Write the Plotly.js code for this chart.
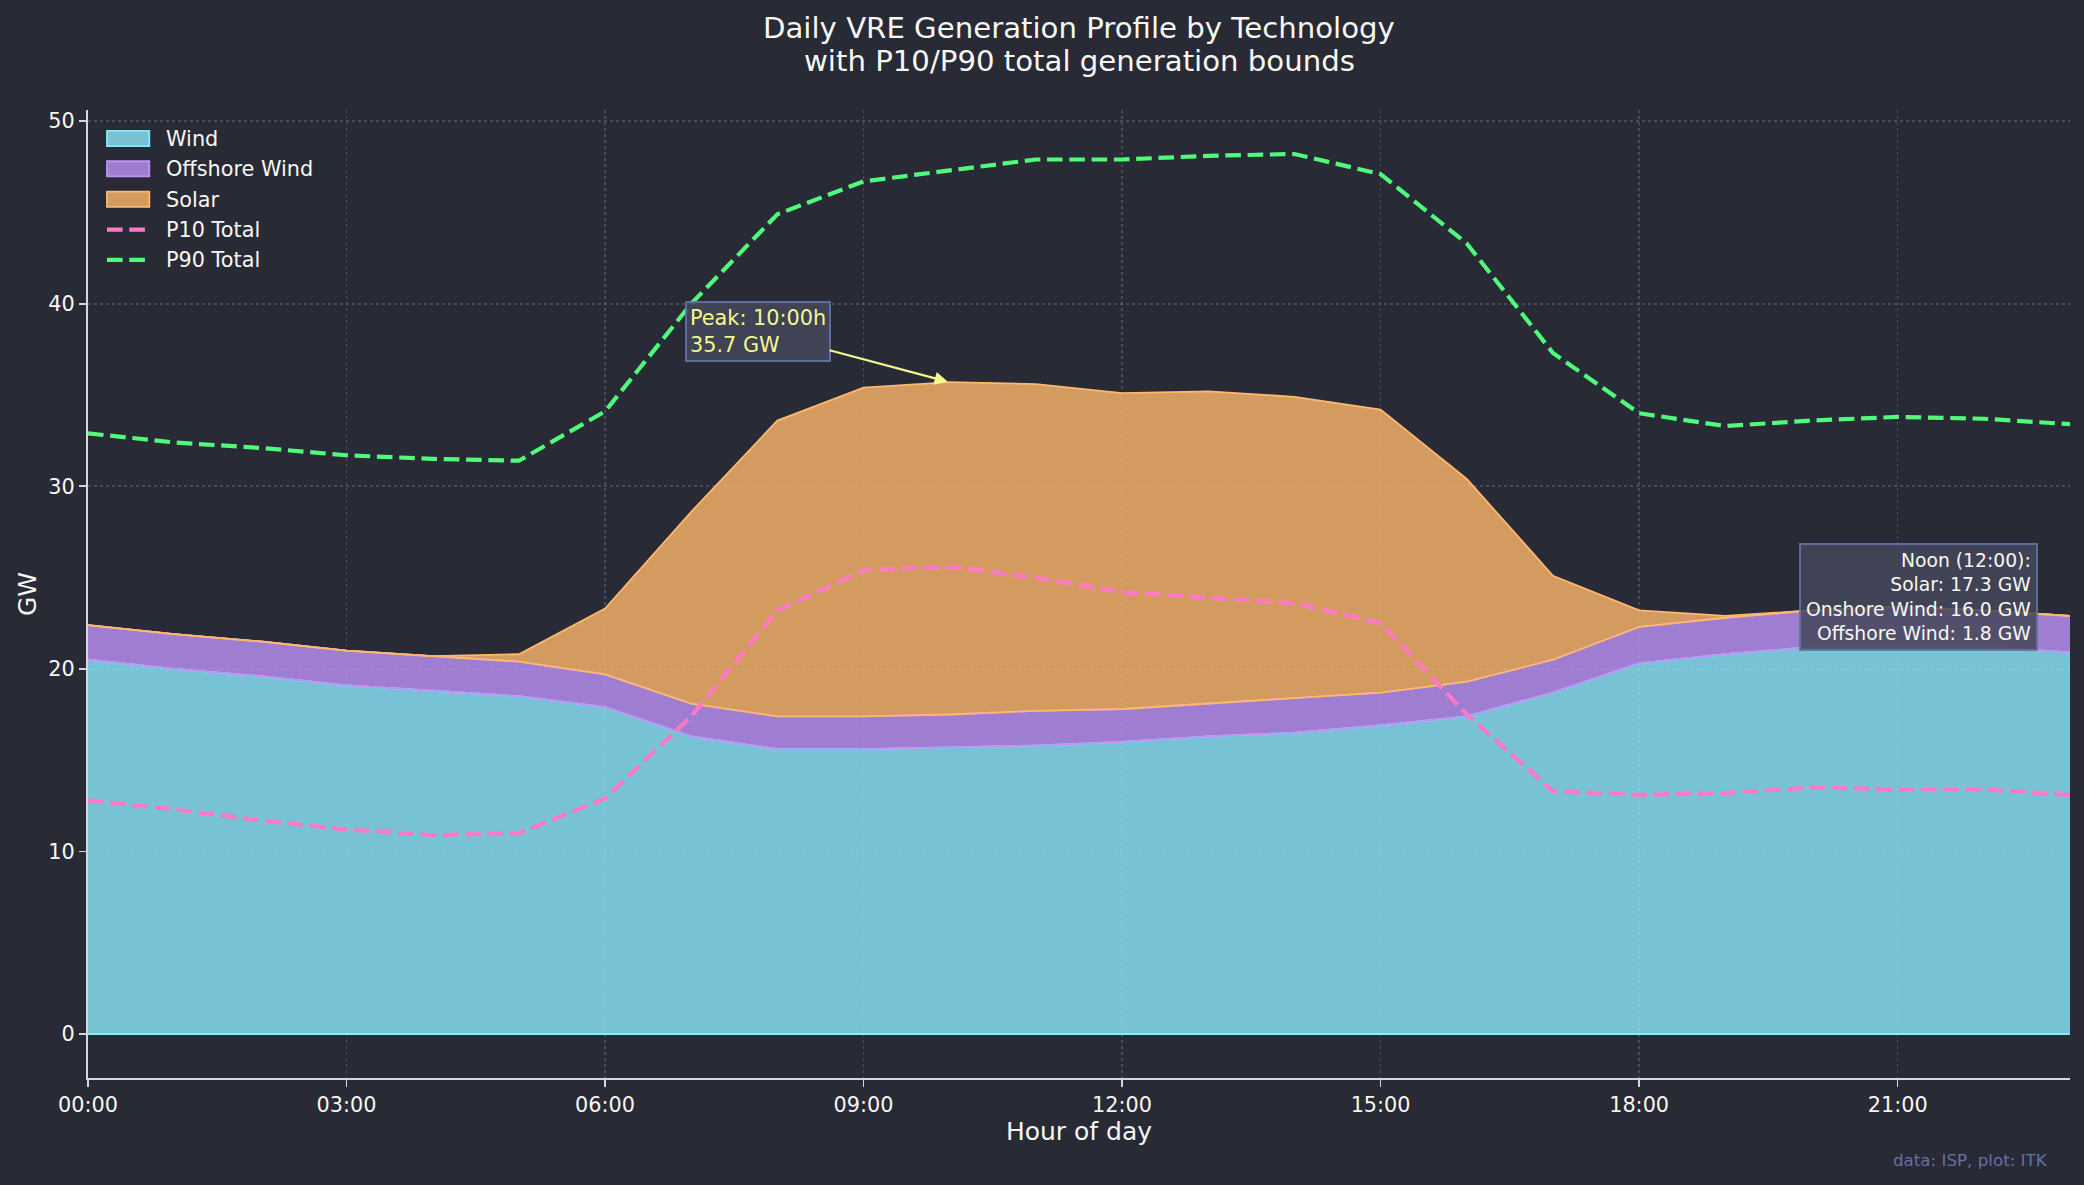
<!DOCTYPE html>
<html>
<head>
<meta charset="utf-8">
<script src="https://cdn.plot.ly/plotly-3.0.1.min.js"></script>
<style>
  html, body { margin: 0; padding: 0; background: #282a36; }
  #chart { width: 2084px; height: 1185px; }
</style>
</head>
<body>
<div id="chart"></div>
<script>
// ---- data (GW, hourly) ----
const hours = [0,1,2,3,4,5,6,7,8,9,10,11,12,13,14,15,16,17,18,19,20,21,22,23];
const wind = [20.5,20.0,19.6,19.1,18.8,18.5,17.9,16.3,15.6,15.6,15.7,15.8,16.0,16.3,16.5,16.9,17.4,18.7,20.3,20.8,21.2,21.2,21.2,20.9];
const offshore = [1.9,1.9,1.9,1.9,1.9,1.9,1.8,1.8,1.8,1.8,1.8,1.9,1.8,1.8,1.9,1.8,1.9,1.8,2.0,2.0,2.0,2.2,2.0,2.0];
const solar = [0,0,0,0,0,0.4,3.6,10.5,16.2,18.0,18.2,17.9,17.3,17.1,16.5,15.5,11.1,4.6,0.9,0.1,0,0,0,0];
const p10 = [12.8,12.3,11.7,11.2,10.9,11.0,12.9,17.4,23.2,25.4,25.6,25.0,24.2,23.9,23.6,22.5,17.5,13.3,13.1,13.2,13.5,13.4,13.4,13.1];
const p90 = [32.9,32.4,32.1,31.7,31.5,31.4,34.1,40.0,44.9,46.7,47.3,47.9,47.9,48.1,48.2,47.1,43.3,37.3,34.0,33.3,33.6,33.8,33.7,33.4];
const xTickVals = [0,3,6,9,12,15,18,21];
const xTickText = ["00:00","03:00","06:00","09:00","12:00","15:00","18:00","21:00"];
const yTickVals = [0,10,20,30,40,50];
const seriesNames = ["Wind","Offshore Wind","Solar","P10 Total","P90 Total"];
const titleLines = ["Daily VRE Generation Profile by Technology","with P10/P90 total generation bounds"];
const noonHour = 12;

// derived
const windTop = wind.slice();
const offTop = wind.map((v,i)=>v+offshore[i]);
const total = wind.map((v,i)=>v+offshore[i]+solar[i]);
let peakIdx = 0;
total.forEach((v,i)=>{ if (v > total[peakIdx]) peakIdx = i; });
const noonIdx = hours.indexOf(noonHour);

const C = {
  bg: '#282a36', fg: '#f8f8f2', cyan: '#8be9fd', purple: '#bd93f9',
  orange: '#ffb86c', pink: '#ff79c6', green: '#50fa7b', yellow: '#f1fa8c',
  comment: '#6272a4'
};
const FILL = {
  cyan: 'rgba(139,233,253,0.8)', purple: 'rgba(189,147,249,0.8)', orange: 'rgba(255,184,108,0.8)'
};
const FONT = 'DejaVu Sans, Verdana, sans-serif';
const DASH = '15.6px,6.7px';

const traces = [
  { x: hours, y: wind, name: seriesNames[0], type: 'scatter', mode: 'lines', stackgroup: 'vre',
    line: { color: C.cyan, width: 1.8 }, fillcolor: FILL.cyan, hoverinfo: 'skip' },
  { x: hours, y: offshore, name: seriesNames[1], type: 'scatter', mode: 'lines', stackgroup: 'vre',
    line: { color: C.purple, width: 1.8 }, fillcolor: FILL.purple, hoverinfo: 'skip' },
  { x: hours, y: solar, name: seriesNames[2], type: 'scatter', mode: 'lines', stackgroup: 'vre',
    line: { color: C.orange, width: 1.8 }, fillcolor: FILL.orange, hoverinfo: 'skip' },
  { x: hours, y: windTop, type: 'scatter', mode: 'lines', hoverinfo: 'skip',
    line: { color: C.purple, width: 1.8 } },
  { x: hours, y: offTop, type: 'scatter', mode: 'lines', hoverinfo: 'skip',
    line: { color: C.orange, width: 1.8 } },
  { x: hours, y: p10, name: seriesNames[3], type: 'scatter', mode: 'lines',
    line: { color: C.pink, width: 4.2, dash: DASH } },
  { x: hours, y: p90, name: seriesNames[4], type: 'scatter', mode: 'lines',
    line: { color: C.green, width: 4.2, dash: DASH } }
];

// ---- custom legend (pixel layout converted to paper coords) ----
const PL = 88, PR = 2070, PT = 110, PB = 1078;
const px = v => (v - PL) / (PR - PL);
const py = v => (PB - v) / (PB - PT);
const legendShapes = [];
const legendAnns = [];
const legendStyle = [
  { kind: 'box', fill: FILL.cyan, line: C.cyan },
  { kind: 'box', fill: FILL.purple, line: C.purple },
  { kind: 'box', fill: FILL.orange, line: C.orange },
  { kind: 'dash', line: C.pink },
  { kind: 'dash', line: C.green }
];
legendStyle.forEach((s, i) => {
  const cy = 138.5 + i * 30.35;
  if (s.kind === 'box') {
    legendShapes.push({ type: 'rect', xref: 'paper', yref: 'paper',
      x0: px(107), x1: px(149.3), y0: py(cy - 7.6), y1: py(cy + 7.6),
      fillcolor: s.fill, line: { color: s.line, width: 1.8 }, layer: 'above' });
  } else {
    legendShapes.push({ type: 'line', xref: 'paper', yref: 'paper',
      x0: px(107), x1: px(145), y0: py(cy), y1: py(cy),
      line: { color: s.line, width: 4.2, dash: DASH }, layer: 'above' });
  }
  legendAnns.push({ xref: 'paper', yref: 'paper', x: px(165), y: py(cy + 0.5),
    xanchor: 'left', yanchor: 'middle', showarrow: false, text: seriesNames[i],
    font: { family: FONT, size: 20.8, color: C.fg }, borderpad: 0 });
});

const titleAnns = titleLines.map((t, i) => ({
  xref: 'paper', yref: 'paper', x: 0.5, y: py(28 + i * 33), xanchor: 'center', yanchor: 'middle',
  showarrow: false, text: t, font: { family: FONT, size: 29.2, color: C.fg }, borderpad: 0
}));

const gridColor = 'rgba(120,128,160,0.38)';
const layout = {
  width: 2084, height: 1185, autosize: false,
  paper_bgcolor: C.bg, plot_bgcolor: C.bg,
  margin: { l: 88, r: 14, t: 110, b: 107, pad: 0 },
  font: { family: FONT, color: C.fg, size: 21 },
  showlegend: false,
  xaxis: {
    range: [0, 23], tickmode: 'array', tickvals: xTickVals, ticktext: xTickText,
    showgrid: true, gridcolor: gridColor, griddash: 'dot', gridwidth: 1.6,
    showline: true, linecolor: '#d6d6dc', linewidth: 2, mirror: false,
    ticks: 'outside', ticklen: 7, tickwidth: 1.6, tickcolor: '#d6d6dc',
    tickfont: { family: FONT, size: 20.8, color: C.fg },
    zeroline: false, layer: 'above traces',
    title: { text: 'Hour of day', font: { family: FONT, size: 25, color: C.fg }, standoff: 7 }
  },
  yaxis: {
    range: [-2.41, 50.61], tickmode: 'array', tickvals: yTickVals,
    showgrid: true, gridcolor: gridColor, griddash: 'dot', gridwidth: 1.6,
    showline: true, linecolor: '#d6d6dc', linewidth: 2, mirror: false,
    ticks: 'outside', ticklen: 7, tickwidth: 1.6, tickcolor: '#d6d6dc',
    tickfont: { family: FONT, size: 20.8, color: C.fg },
    zeroline: true, zerolinecolor: C.cyan, zerolinewidth: 1.8, layer: 'above traces',
    title: { text: 'GW', font: { family: FONT, size: 25, color: C.fg }, standoff: 5 }
  },
  shapes: legendShapes,
  annotations: titleAnns.concat(legendAnns).concat([
    {
      x: hours[peakIdx], y: total[peakIdx], xref: 'x', yref: 'y',
      ax: 7.77, ay: 38.5, axref: 'x', ayref: 'y',
      text: 'Peak: ' + String(hours[peakIdx]).padStart(2,'0') + ':00h<br>' + total[peakIdx].toFixed(1) + ' GW',
      align: 'left', showarrow: true, arrowhead: 2, arrowsize: 1.2, arrowwidth: 2.2,
      arrowcolor: C.yellow, standoff: 2,
      font: { family: FONT, size: 20.8, color: C.yellow },
      bgcolor: 'rgba(68,71,90,0.85)', bordercolor: 'rgba(98,114,164,0.9)', borderwidth: 2, borderpad: 3
    },
    {
      x: 0.984, y: 0.553, xref: 'paper', yref: 'paper', xanchor: 'right', yanchor: 'top',
      showarrow: false, align: 'right',
      text: 'Noon (12:00):<br>Solar: ' + solar[noonIdx].toFixed(1) + ' GW<br>Onshore Wind: ' +
            wind[noonIdx].toFixed(1) + ' GW<br>Offshore Wind: ' + offshore[noonIdx].toFixed(1) + ' GW',
      font: { family: FONT, size: 18.75, color: C.fg },
      bgcolor: 'rgba(68,71,90,0.85)', bordercolor: 'rgba(98,114,164,0.9)', borderwidth: 2, borderpad: 5
    },
    {
      x: 0.99, y: -0.072, xref: 'paper', yref: 'paper', xanchor: 'right', yanchor: 'top',
      showarrow: false, text: 'data: ISP, plot: ITK',
      font: { family: FONT, size: 16.7, color: C.comment }
    }
  ])
};

Plotly.newPlot('chart', traces.map(t => Object.assign({ showlegend: false }, t)), layout,
  { staticPlot: true, displayModeBar: false });
</script>
</body>
</html>
